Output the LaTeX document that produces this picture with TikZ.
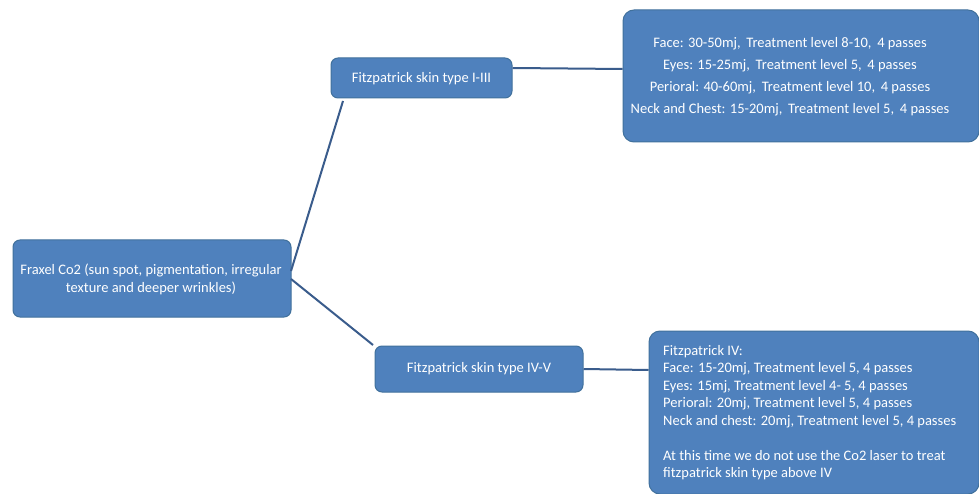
\documentclass[tikz,border=0pt]{standalone}
\usepackage{fontspec}
\setmainfont{Carlito}
\definecolor{boxfill}{HTML}{4F81BD}
\definecolor{boxedge}{HTML}{41719C}
\definecolor{linkcol}{HTML}{3A5C8C}
\begin{document}
\begin{tikzpicture}[x=1pt,y=-1pt,
  box/.style={draw=boxedge,line width=1pt,fill=boxfill,rounded corners=7pt,inner sep=0pt},
  txt/.style={text=white,font=\fontsize{14.5}{18}\selectfont,inner sep=0pt},
  link/.style={draw=linkcol,line width=2pt}]
\useasboundingbox (0,0) rectangle (979,494);
\fill[white] (0,0) rectangle (979,494);
\node[box,minimum width=278pt,minimum height=77pt] (root) at (152,278.5) {};
\node[txt,align=center] (roottext) at (151,279) {Fraxel Co2 (sun spot, pigmentation, irregular\\texture and deeper wrinkles)};
\node[box,minimum width=181pt,minimum height=40pt] (t13) at (421.5,78) {};
\node[txt] (t13text) at (421.5,79) {Fitzpatrick skin type I-III};
\node[box,minimum width=208pt,minimum height=46pt] (t45) at (479,369) {};
\node[txt] (t45text) at (479,369) {Fitzpatrick skin type IV-V};
\node[box,rounded corners=11pt,minimum width=356pt,minimum height=132pt] (tr) at (801,76) {};
\node[txt,align=center,font=\fontsize{14.5}{22}\selectfont] (trtext) at (790,77) {Face: 30-50mj, \,Treatment level 8-10, \,4 passes\\Eyes: 15-25mj, \,Treatment level 5, \,4 passes\\Perioral: 40-60mj, \,Treatment level 10, \,4 passes\\Neck and Chest: 15-20mj, \,Treatment level 5, \,4 passes};
\node[box,rounded corners=11pt,minimum width=330pt,minimum height=163pt] (br) at (814,412.5) {};
\node[txt,align=left,anchor=north west,font=\fontsize{14.5}{17.5}\selectfont] (brtext) at (663,345) {Fitzpatrick IV:\\Face: 15-20mj, Treatment level 5, 4 passes\\Eyes: 15mj, Treatment level 4- 5, 4 passes\\Perioral: 20mj, Treatment level 5, 4 passes\\Neck and chest: 20mj, Treatment level 5, 4 passes\\[17.5pt]At this time we do not use the Co2 laser to treat\\fitzpatrick skin type above IV};
\coordinate (r1) at (291,271);
\coordinate (r2) at (291,279);
\coordinate (a1) at (343,101);
\coordinate (a2) at (373,345);
\draw[link] (r1) -- (a1);
\draw[link] (r2) -- (a2);
\draw[link] (t13.east |- 0,68) -- (tr.west |- 0,69);
\draw[link] (t45.east) -- (br.west |- 0,370);
\end{tikzpicture}
\end{document}
